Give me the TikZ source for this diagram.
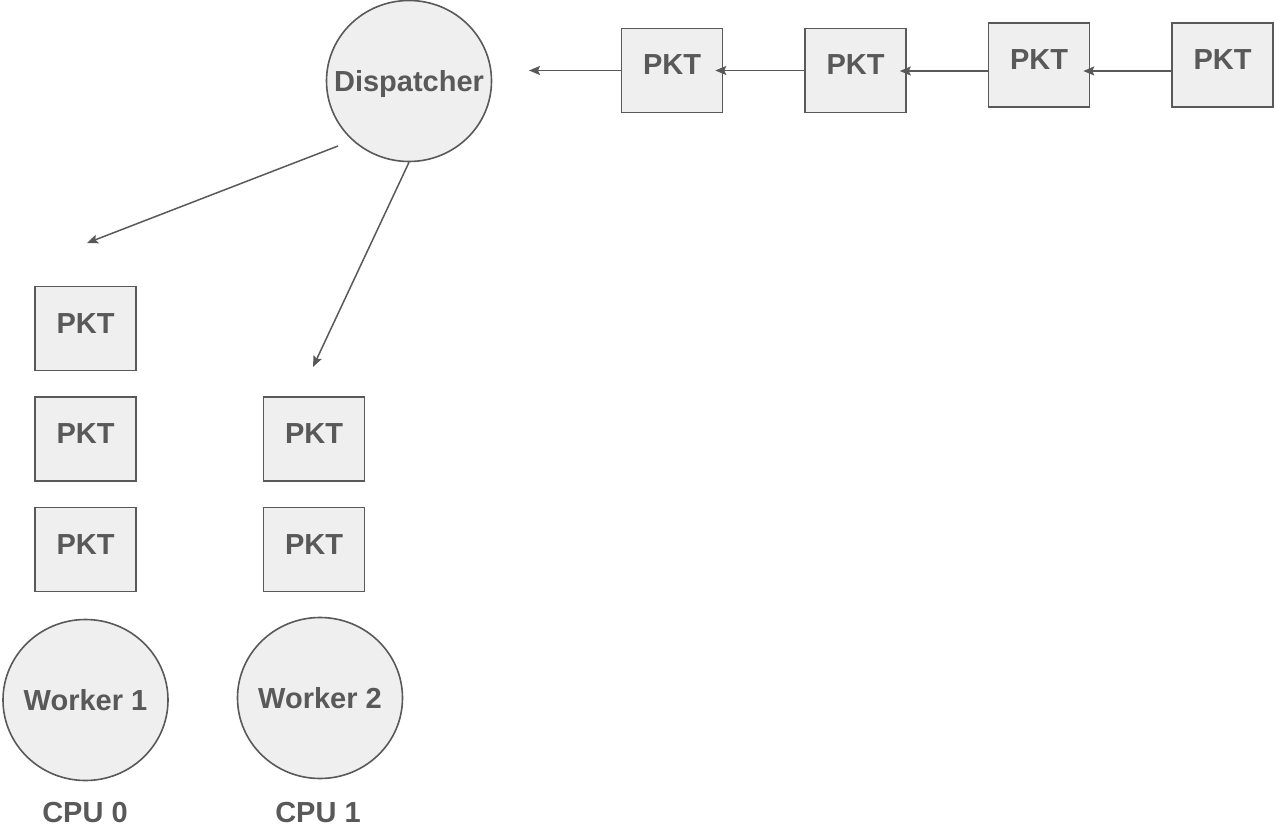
\documentclass[tikz,border=0pt]{standalone}
\usepackage{fontspec}
\setmainfont{Liberation Sans}
\usetikzlibrary{arrows.meta,shapes.geometric,calc}
\definecolor{ln}{HTML}{595959}
\definecolor{fl}{HTML}{EFEFEF}
\newcommand\ztxt[1]{\makebox[0pt]{#1}}
\begin{document}
\begin{tikzpicture}[x=1pt,y=-1pt,
 base/.style={draw=ln,fill=fl,line width=1.6pt,text=ln,font=\fontsize{29}{34}\selectfont\bfseries,inner sep=0pt},
 pkt/.style={base,rectangle,minimum width=101pt,minimum height=84pt,text height=21pt,text depth=12pt},
 proc/.style={base,ellipse,minimum width=165pt,minimum height=161pt,text height=21pt,text depth=0pt},
 lbl/.style={text=ln,font=\fontsize{29}{34}\selectfont\bfseries,inner sep=0pt,text height=21pt,text depth=0pt},
 arr/.style={draw=ln,line width=1.5pt,-{Stealth[length=11pt,width=9pt,inset=2pt]}},
]
\useasboundingbox (0,0) rectangle (1276,829);
\node[proc] (D) at (409,81) {\ztxt{Dispatcher}};
\node[pkt] (B1) at (672,70.5) {PKT};
\node[pkt] (B2) at (855.5,70.5) {PKT};
\node[pkt] (B3) at (1039,65) {PKT};
\node[pkt] (B4) at (1222.5,65) {PKT};
\node[pkt] (L1) at (85.5,328.5) {PKT};
\node[pkt] (L2) at (85.5,439) {PKT};
\node[pkt] (L3) at (85.5,549.5) {PKT};
\node[pkt] (R1) at (314,439) {PKT};
\node[pkt] (R2) at (314,549.5) {PKT};
\node[proc] (W1) at (85.5,700) {\ztxt{Worker 1}};
\node[proc] (W2) at (320,698) {\ztxt{Worker 2}};
\node[lbl] (C0) at (85,812) {CPU 0};
\node[lbl] (C1) at (318,812) {CPU 1};
\coordinate (Din) at (529,70.5);
\coordinate (Q0) at (87,243);
\coordinate (Q1) at (313,367);
\draw[arr] (B1.west) -- (Din);
\draw[arr,shorten >=-8pt] (B2.west) -- (B1.east);
\draw[arr,shorten >=-7pt] ([yshift=-6pt]B3.west) -- ([yshift=-0.5pt]B2.east);
\draw[arr,shorten >=-7pt] ([yshift=-6pt]B4.west) -- ([yshift=-6pt]B3.east);
\draw[arr] ($(D.center)+(-71,65)$) -- (Q0);
\draw[arr] (D.south) -- (Q1);
\end{tikzpicture}
\end{document}
